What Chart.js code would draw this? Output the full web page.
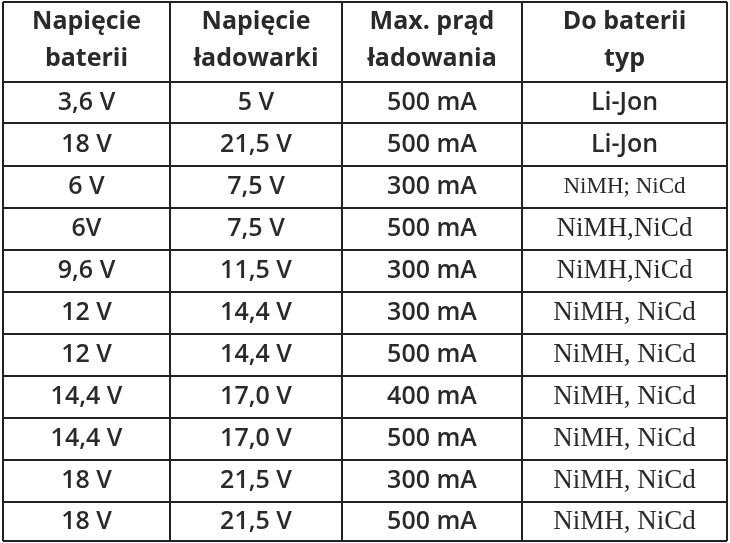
<!DOCTYPE html>
<html><head><meta charset="utf-8">
<script src="https://cdn.jsdelivr.net/npm/chart.js@4"></script>
<style>html,body{margin:0;padding:0;background:#fff}#c{display:block}</style>
</head><body>
<div style="width:730px;height:543px"><canvas id="c"></canvas></div>
<script>
const headers = [["Napięcie","baterii"],["Napięcie","ładowarki"],["Max. prąd","ładowania"],["Do baterii","typ"]];
const batteryV = ["3,6 V","18 V","6 V","6V","9,6 V","12 V","12 V","14,4 V","14,4 V","18 V","18 V"];
const chargerV = ["5 V","21,5 V","7,5 V","7,5 V","11,5 V","14,4 V","14,4 V","17,0 V","17,0 V","21,5 V","21,5 V"];
const currentMA = ["500 mA","500 mA","300 mA","500 mA","300 mA","300 mA","500 mA","400 mA","500 mA","300 mA","500 mA"];
const batteryType = ["Li-Jon","Li-Jon","NiMH; NiCd","NiMH,NiCd","NiMH,NiCd","NiMH, NiCd","NiMH, NiCd","NiMH, NiCd","NiMH, NiCd","NiMH, NiCd","NiMH, NiCd"];
const cols = [batteryV, chargerV, currentMA, batteryType];

const colX = [3,170,342,522,727];
const rowY = [2,82,123,166,208,250,292,334,376,418,460,502,541];

const tablePlugin = {
  id:'table',
  afterDraw(chart){
    const ctx = chart.ctx;
    ctx.save();
    ctx.fillStyle='#fff';ctx.fillRect(0,0,chart.width,chart.height);
    ctx.strokeStyle='#222';ctx.lineWidth=2;
    colX.forEach(x=>{ctx.beginPath();ctx.moveTo(x,rowY[0]);ctx.lineTo(x,rowY[rowY.length-1]);ctx.stroke();});
    rowY.forEach(y=>{ctx.beginPath();ctx.moveTo(colX[0],y);ctx.lineTo(colX[4],y);ctx.stroke();});
    ctx.fillStyle='#2a2a2a';ctx.textAlign='center';ctx.textBaseline='middle';
    headers.forEach((h,i)=>{
      const cx=(colX[i]+colX[i+1])/2;
      ctx.font='bold 25px "Open Sans", sans-serif';
      ctx.fillText(h[0],cx,22);ctx.fillText(h[1],cx,59);
    });
    cols.forEach((col,i)=>{
      const cx=(colX[i]+colX[i+1])/2;
      col.forEach((t,r)=>{
        const cy=(rowY[r+1]+rowY[r+2])/2;
        if(i===3 && r>=2){ctx.font=(r===2?'23px':'27px')+' "Liberation Serif", serif';}
        else ctx.font='600 25px "Open Sans", sans-serif';
        ctx.fillText(t,cx,cy);
      });
    });
    ctx.restore();
  }
};
new Chart(document.getElementById('c'),{
  type:'bar',
  data:{labels:batteryV,datasets:[{data:[],label:''}]},
  options:{responsive:true,maintainAspectRatio:false,animation:false,
    plugins:{legend:{display:false},tooltip:{enabled:false}},
    scales:{x:{display:false},y:{display:false}}},
  plugins:[tablePlugin]
});
</script>
</body></html>
